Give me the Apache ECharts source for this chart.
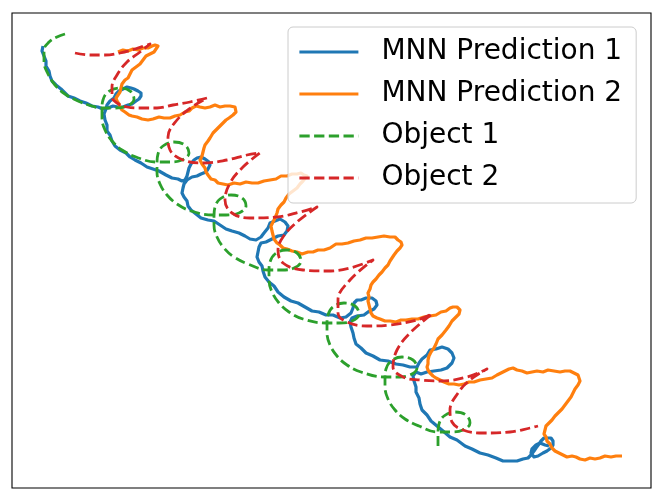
<!DOCTYPE html>
<html>
<head>
<meta charset="utf-8">
<script src="https://cdn.jsdelivr.net/npm/echarts@6/dist/echarts.min.js"></script>
<style>
html,body{margin:0;padding:0;background:#fff;}
#chart{width:664px;height:501px;}
</style>
</head>
<body>
<div id="chart"></div>
<script>
// Series names (legend labels)
const seriesNames = ['MNN Prediction 1', 'MNN Prediction 2', 'Object 1', 'Object 2'];

// MNN Prediction 1 (blue, noisy) — trajectory points [x, y]
const prediction1 = [
  [43,46],[42,51],[44,56],[46,61],[46,66],[49,71],[50,76],[52,81],[56,85],[61,89],[64,92],[68,96],[74,98],[80,101],[86,103],[92,106],
  [98,107],[103,109],[108,108],[113,106],[118,107],[123,107],[128,105],[132,104],[136,101],[139,99],[141,96],[141,93],[138,91],[134,89],
  [131,88],[127,87],[123,89],[119,91],[116,94],[114,98],[110,101],[107,105],[106,109],[104,114],[105,120],[107,125],[107,131],[110,135],
  [112,141],[115,146],[120,150],[126,153],[130,157],[135,160],[141,163],[147,167],[153,169],[159,171],[166,175],[172,178],[178,179],
  [182,181],[185,180],[187,176],[188,172],[189,168],[191,164],[194,160],[197,158],[201,157],[205,159],[209,162],[210,165],[208,169],
  [206,172],[201,174],[197,176],[192,177],[187,180],[184,184],[183,188],[182,193],[184,197],[187,201],[188,206],[191,210],[196,214],
  [201,218],[208,220],[214,221],[220,225],[226,229],[232,231],[239,233],[245,236],[250,239],[256,240],[261,237],[264,233],[268,228],
  [270,223],[275,221],[280,219],[285,222],[288,226],[287,231],[284,235],[278,236],[272,239],[266,242],[261,243],[259,247],[258,252],
  [257,257],[259,262],[262,266],[263,271],[265,277],[269,282],[274,286],[278,292],[284,297],[291,301],[298,303],[305,307],[312,311],
  [319,312],[326,315],[333,315],[340,318],[346,317],[351,313],[353,308],[354,303],[357,300],[361,300],[366,298],[372,298],[376,301],
  [377,305],[374,309],[368,312],[364,315],[357,316],[352,318],[350,322],[351,327],[353,333],[354,338],[356,344],[361,348],[366,353],
  [373,356],[380,360],[388,361],[396,364],[403,365],[410,367],[417,367],[419,363],[422,359],[427,355],[430,350],[436,349],[442,347],
  [448,349],[452,353],[454,358],[452,363],[447,368],[441,370],[434,371],[427,372],[421,374],[416,372],[413,376],[414,381],[416,387],
  [416,392],[419,398],[420,404],[422,410],[427,415],[431,421],[437,426],[443,431],[450,437],[457,440],[465,446],[472,449],[480,453],
  [488,455],[496,458],[503,461],[511,461],[517,461],[523,459],[528,458],[531,455],[534,451],[536,448],[539,444],[541,441],[544,438],
  [547,438],[551,438],[553,441],[553,445],[551,448],[547,451],[543,453],[538,456],[534,457],[531,453],[532,449],[536,445],[540,443],
  [545,445],[549,446]
];

// MNN Prediction 2 (orange, noisy)
const prediction2 = [
  [118,52],[123,50],[128,51],[133,49],[138,50],[143,48],[148,48],[152,46],[155,45],[158,46],[157,48],[154,52],[150,54],[146,56],
  [143,60],[140,64],[136,67],[132,70],[130,74],[128,78],[125,80],[122,84],[121,88],[120,92],[118,95],[116,98],[117,101],[119,104],
  [120,107],[122,110],[125,112],[129,115],[132,116],[137,117],[142,119],[148,120],[153,119],[159,117],[164,118],[170,118],[175,116],
  [180,115],[185,112],[189,111],[192,108],[196,106],[200,107],[205,108],[210,107],[215,105],[220,107],[225,106],[230,106],[235,107],
  [237,109],[236,112],[233,115],[229,118],[226,120],[222,124],[219,127],[217,129],[213,133],[210,138],[208,141],[205,145],[204,148],
  [203,152],[202,156],[200,160],[202,164],[205,168],[206,172],[208,175],[211,179],[215,180],[218,183],[223,184],[228,185],[234,183],
  [240,184],[246,182],[252,183],[258,183],[264,181],[270,180],[276,179],[281,176],[287,176],[292,174],[297,174],[301,173],[304,175],
  [307,176],[306,178],[303,181],[300,184],[297,188],[293,191],[289,194],[286,198],[284,202],[281,205],[278,209],[277,213],[275,218],
  [273,222],[271,226],[272,231],[273,235],[274,239],[277,243],[280,245],[283,248],[287,249],[292,251],[297,252],[302,254],[308,252],
  [313,252],[318,250],[324,250],[330,248],[336,244],[342,244],[348,243],[354,241],[360,240],[366,238],[372,238],[378,237],[384,236],
  [390,237],[395,237],[398,240],[401,242],[402,245],[400,248],[397,251],[394,255],[392,258],[390,261],[388,265],[385,268],[382,272],
  [379,275],[376,279],[373,282],[371,285],[370,289],[368,293],[369,297],[368,301],[369,305],[370,309],[371,313],[373,316],[377,318],
  [380,319],[385,321],[390,321],[396,322],[401,320],[406,320],[412,319],[418,319],[424,317],[430,316],[436,315],[441,312],[446,311],
  [450,308],[453,307],[457,307],[460,310],[459,314],[456,317],[452,321],[449,326],[446,330],[442,335],[438,339],[436,344],[434,348],
  [431,352],[429,356],[428,360],[428,364],[427,367],[428,370],[430,373],[433,376],[436,378],[440,380],[444,382],[449,384],[454,384],
  [459,385],[464,384],[469,382],[474,382],[480,380],[486,379],[492,378],[497,375],[501,373],[505,371],[509,369],[513,368],[517,370],
  [522,371],[527,373],[532,372],[537,371],[543,372],[548,370],[554,371],[560,372],[565,371],[570,371],[574,373],[578,375],[579,378],
  [580,381],[578,385],[575,389],[573,393],[571,397],[568,401],[565,405],[562,409],[559,412],[555,416],[552,420],[549,423],[546,426],
  [545,430],[544,434],[546,437],[547,441],[550,444],[552,448],[555,451],[559,453],[563,455],[567,457],[572,456],[576,457],[580,459],
  [585,460],[590,458],[595,459],[600,458],[605,456],[611,457],[616,456],[622,456]
];

// Object 1 (green dashed)
const object1 = [
  [65,34],[57,37],[49,42],[44,50],[44,62],[48,74],[55,85],[65,94],[78,101],[92,106],
  [101,108],[114,108],[127,106],[134,99],[130,91],[119,88],[108,92],[103,100],[102,109],[102,118],[105,130],[112,141],[122,150],[136,157],
  [156,162],[169,162],[182,160],[189,153],[185,145],[174,142],[163,146],[158,154],[157,163],[157,172],[160,184],[167,195],[177,204],[191,211],
  [213,215],[226,215],[239,213],[246,206],[242,198],[231,195],[220,199],[215,207],[214,216],[214,225],[217,237],[224,248],[234,257],[248,264],
  [268,270],[281,270],[294,268],[301,261],[297,253],[286,250],[275,254],[270,262],[269,271],[269,280],[272,292],[279,303],[289,312],[303,319],
  [326,323],[339,323],[352,321],[359,314],[355,306],[344,303],[333,307],[328,315],[327,324],[327,333],[330,345],[337,356],[347,365],[361,372],
  [384,377],[397,377],[410,375],[417,368],[413,360],[402,357],[391,361],[386,369],[385,378],[385,387],[388,399],[395,410],[405,419],[419,426],
  [437,432],[450,432],[463,430],[470,423],[466,415],[455,412],[444,416],[439,424],[438,433],[438,446]
];

// Object 2 (red dashed)
const object2 = [
  [75,53],[90,55],[105,55],[120,53],[135,49],[150,44],
  [140,52],[127,62],[117,75],[112,87],[112,97],[117,103],[127,107],[140,108],[157,108],[173,105],[190,102],[207,98],
  [192,107],[177,120],[168,137],[170,150],[183,160],[203,163],[227,160],[247,155],[260,153],
  [243,167],[230,183],[225,200],[232,213],[250,218],[277,217],[300,212],[317,207],
  [297,222],[283,237],[278,250],[283,263],[303,270],[327,271],[350,268],[373,260],
  [350,280],[338,300],[338,313],[347,322],[367,326],[390,325],[417,320],[432,314],
  [410,333],[397,350],[393,367],[403,377],[420,380],[440,381],[467,377],[487,369],
  [470,380],[458,393],[450,410],[452,422],[463,430],[483,433],[510,432],[530,428],[538,426]
];

const colors = ['#1f77b4', '#ff7f0e', '#2ca02c', '#d62728'];
const dash = [10.3, 4.4];

const chart = echarts.init(document.getElementById('chart'), null, {renderer: 'canvas'});

function lineSeries(name, data, color, dashed, smooth) {
  return {
    name: name,
    type: 'line',
    data: data,
    symbol: 'none',
    showSymbol: false,
    smooth: smooth,
    animation: false,
    clip: true,
    lineStyle: {color: color, width: dashed ? 2.8 : 3.2, type: dashed ? dash : 'solid', cap: 'butt', join: 'round'},
    itemStyle: {color: color}
  };
}

const option = {
  animation: false,
  backgroundColor: '#ffffff',
  grid: {left: 12, top: 13, width: 639, height: 475, show: true, borderColor: '#000000', borderWidth: 1.1, backgroundColor: 'transparent'},
  xAxis: {type: 'value', min: 12, max: 651, show: false},
  yAxis: {type: 'value', min: 13, max: 488, inverse: true, show: false},
  legend: {
    orient: 'vertical',
    left: 288, top: 27,
    padding: [11, 14, 11, 10],
    itemWidth: 59, itemHeight: 28, itemGap: 14,
    backgroundColor: 'rgba(255,255,255,0.8)',
    borderColor: '#cccccc', borderWidth: 1, borderRadius: 5,
    itemStyle: {opacity: 0},
    textStyle: {fontSize: 28, fontFamily: 'DejaVu Sans', color: '#000000', padding: [0, 0, 0, 18]},
    data: seriesNames.map(function (n, i) {
      return {name: n, lineStyle: {color: colors[i], width: 2.8, type: i >= 2 ? dash : 'solid', opacity: 1}};
    })
  },
  series: [
    lineSeries(seriesNames[0], prediction1, colors[0], false, false),
    lineSeries(seriesNames[1], prediction2, colors[1], false, false),
    lineSeries(seriesNames[2], object1, colors[2], true, 0.4),
    lineSeries(seriesNames[3], object2, colors[3], true, 0.4)
  ]
};
chart.setOption(option);
</script>
</body>
</html>
